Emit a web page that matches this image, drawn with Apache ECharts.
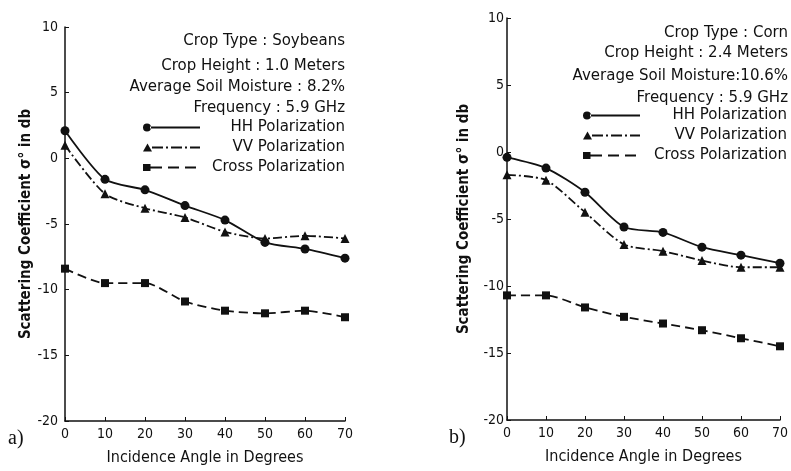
<!DOCTYPE html>
<html>
<head>
<meta charset="utf-8">
<script src="https://cdn.jsdelivr.net/npm/echarts@6/dist/echarts.min.js"></script>
<style>
html,body{margin:0;padding:0;background:#fff;}
#chart{width:791px;height:471px;}
</style>
</head>
<body>
<div id="chart"></div>
<script>
// ---- data ----
const angles = [0, 10, 20, 30, 40, 50, 60, 70];
const yTicks = [-20, -15, -10, -5, 0, 5, 10];
const seriesNames = ['HH Polarization', 'VV Polarization', 'Cross Polarization'];

const soyHH    = [2.1, -1.6, -2.4, -3.6, -4.7, -6.4, -6.9, -7.6];
const soyVV    = [1.0, -2.7, -3.8, -4.5, -5.6, -6.1, -5.9, -6.1];
const soyCross = [-8.4, -9.5, -9.5, -10.9, -11.6, -11.8, -11.6, -12.1];

const cornHH    = [-0.4, -1.2, -3.0, -5.6, -6.0, -7.1, -7.7, -8.3];
const cornVV    = [-1.7, -2.1, -4.5, -6.9, -7.4, -8.1, -8.6, -8.6];
const cornCross = [-10.7, -10.7, -11.6, -12.3, -12.8, -13.3, -13.9, -14.5];

const soyInfo  = ['Crop Type : Soybeans', 'Crop Height : 1.0 Meters', 'Average Soil Moisture : 8.2%', 'Frequency : 5.9 GHz'];
const cornInfo = ['Crop Type : Corn', 'Crop Height : 2.4 Meters', 'Average Soil Moisture:10.6%', 'Frequency : 5.9 GHz'];

// ---- styles ----
const FONT_C = '"DejaVu Sans Condensed", "Liberation Sans Narrow", sans-serif';
const FONT_N = '"DejaVu Sans", "Liberation Sans", sans-serif';
const INK = '#111';
const pair = (ys) => angles.map((a, i) => [a, ys[i]]);

const lineDefs = [
  { symbol: 'circle', size: 9, type: 'solid' },
  { symbol: 'triangle', size: 9, type: [9, 3, 2, 3] },
  { symbol: 'rect', size: 8, type: [9, 5] }
];

// legend icons: marker at left end followed by the line pattern (57 x 8 box)
const legendIcons = [
  'path://M0,4A4,4 0 1,0 8,4A4,4 0 1,0 0,4Z M7,3.1H57V4.9H7Z',
  'path://M0,8L4.5,0L9,8Z M9,3.1H20V4.9H9Z M23,3.1H25V4.9H23Z M28,3.1H39V4.9H28Z M42,3.1H44V4.9H42Z M47,3.1H57V4.9H47Z',
  'path://M0,0.5H7.5V7.5H0Z M7,3.1H19V4.9H7Z M25,3.1H36V4.9H25Z M42,3.1H53V4.9H42Z M57,0H57V8H57Z'
];

function mkSeries(gridIdx, arrays) {
  return arrays.map((ys, k) => ({
    name: seriesNames[k],
    type: 'line',
    xAxisIndex: gridIdx,
    yAxisIndex: gridIdx,
    data: pair(ys),
    smooth: 0.25,
    symbol: lineDefs[k].symbol,
    symbolSize: lineDefs[k].size,
    showSymbol: true,
    itemStyle: { color: INK },
    lineStyle: { color: INK, width: 1.8, type: lineDefs[k].type },
    animation: false
  }));
}

function mkX(gridIdx) {
  return {
    gridIndex: gridIdx, type: 'value', min: 0, max: 70, interval: 10,
    axisLine: { onZero: false, lineStyle: { color: INK, width: 1.5 } },
    axisTick: { inside: true, length: 4, lineStyle: { color: INK } },
    splitLine: { show: false },
    axisLabel: { fontFamily: FONT_C, fontSize: 14, color: INK, margin: 6 },
    name: 'Incidence Angle in Degrees', nameLocation: 'middle', nameGap: 29,
    nameTextStyle: { fontFamily: FONT_C, fontSize: 16, fontWeight: 'normal', color: INK }
  };
}
function mkY(gridIdx, labelMargin, nameGap) {
  return {
    gridIndex: gridIdx, type: 'value', min: yTicks[0], max: yTicks[yTicks.length - 1], interval: 5,
    axisLine: { show: true, onZero: false, lineStyle: { color: INK, width: 1.5 } },
    axisTick: { show: true, inside: true, length: 4, lineStyle: { color: INK } },
    splitLine: { show: false },
    axisLabel: { fontFamily: FONT_C, fontSize: 14, color: INK, margin: labelMargin },
    name: 'Scattering Coefficient σ° in db', nameLocation: 'middle', nameGap: nameGap,
    nameTextStyle: { fontFamily: FONT_C, fontSize: 15, fontWeight: 'bold', color: INK }
  };
}

function infoTitles(lines, right, tops) {
  return lines.map((t, i) => ({
    text: t, right: right, top: tops[i], padding: 0,
    textStyle: { fontFamily: FONT_N, fontSize: 15, fontWeight: 'normal', color: INK }
  }));
}

function mkLegend(left, top, itemWidth, textWidth) {
  return {
    data: seriesNames.map((n, k) => ({ name: n, icon: legendIcons[k] })),
    orient: 'vertical', left: left, top: top, padding: 0,
    itemWidth: itemWidth, itemHeight: 8, itemGap: 5,
    selectedMode: false,
    formatter: '{a|{name}}',
    textStyle: {
      fontFamily: FONT_N, fontSize: 15, color: INK,
      rich: { a: { width: textWidth, align: 'right', fontFamily: FONT_N, fontSize: 15, color: INK } }
    }
  };
}

const option = {
  backgroundColor: '#fff',
  animation: false,
  title: [
    ...infoTitles(soyInfo, 446, [34, 59, 80, 101]),
    ...infoTitles(cornInfo, 3, [26, 46, 69, 91]),
    { text: 'a)', left: 8, top: 429, padding: 0, textStyle: { fontFamily: '"Liberation Serif", serif', fontSize: 20, fontWeight: 'normal', color: INK } },
    { text: 'b)', left: 449, top: 428, padding: 0, textStyle: { fontFamily: '"Liberation Serif", serif', fontSize: 20, fontWeight: 'normal', color: INK } }
  ],
  legend: [
    mkLegend(143, 120, 57, 140),
    mkLegend(583, 108, 59, 141)
  ],
  grid: [
    { left: 65, top: 27, width: 280, height: 396 },
    { left: 507, top: 18, width: 280, height: 402 }
  ],
  xAxis: [mkX(0), mkX(1)],
  yAxis: [mkY(0, 7, 31), mkY(1, 3, 35)],
  series: [
    ...mkSeries(0, [soyHH, soyVV, soyCross]),
    ...mkSeries(1, [cornHH, cornVV, cornCross])
  ]
};

const chart = echarts.init(document.getElementById('chart'), null, { renderer: 'canvas' });
chart.setOption(option);
</script>
</body>
</html>
